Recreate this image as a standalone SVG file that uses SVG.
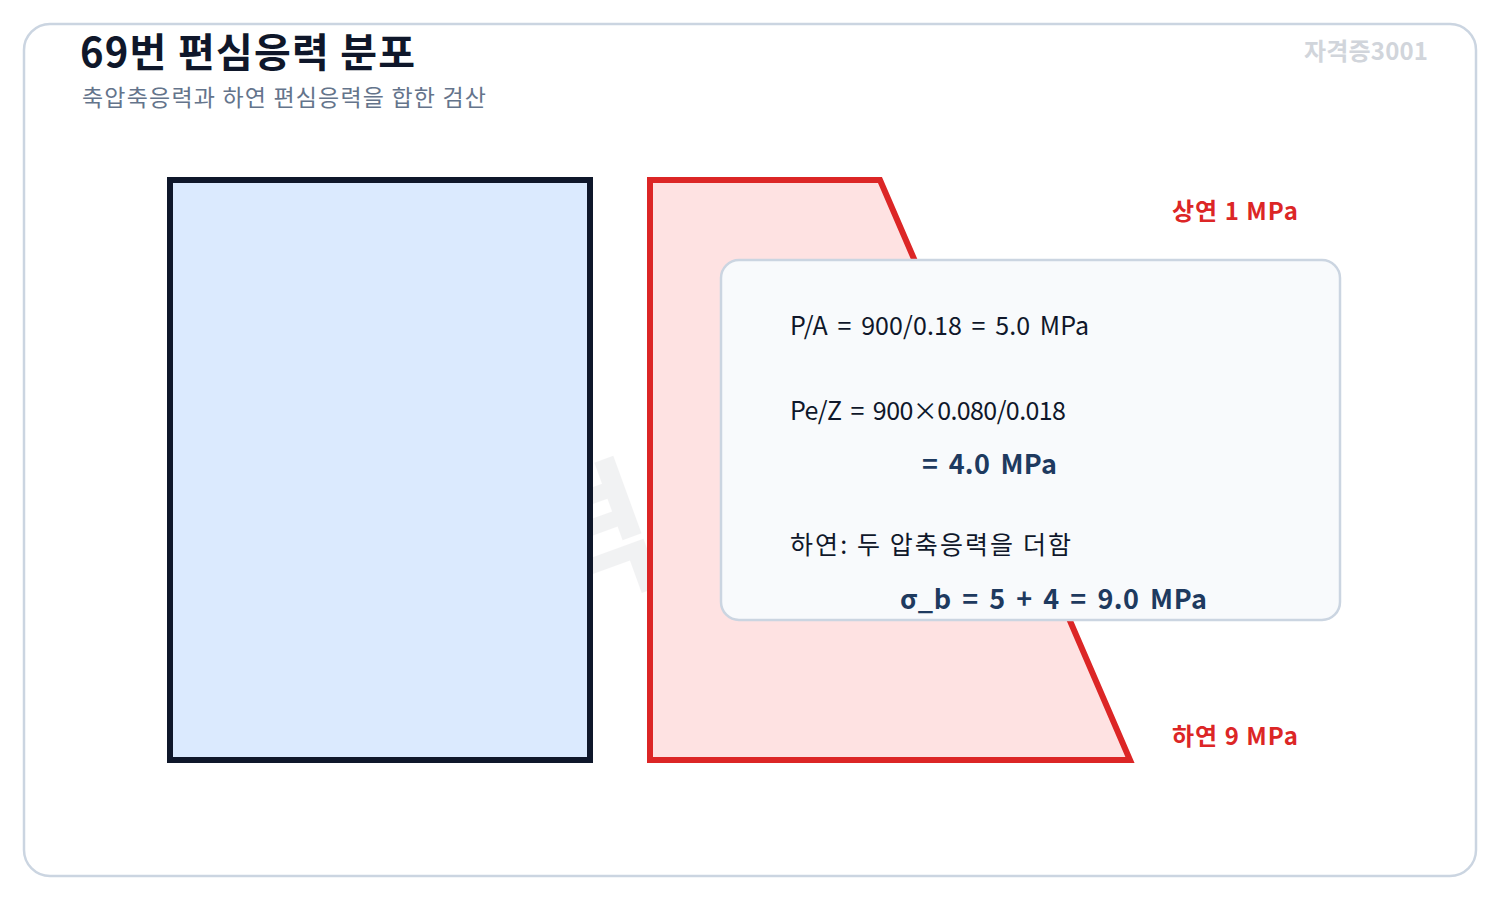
<svg xmlns="http://www.w3.org/2000/svg" width="1500" height="900" viewBox="0 0 1500 900">
<style>
text { font-family: "Noto Sans CJK KR", "Noto Sans", sans-serif; }
.title { font-size: 40px; font-weight: 700; fill: #0f172a; }
.sub { font-size: 23px; fill: #64748b; }
.brand { font-size: 24px; font-weight: 700; fill: #d1d5db; }
.lbl { font-size: 24px; font-weight: 700; fill: #dc2626; }
.calc { font-size: 25px; fill: #0f172a; }
.res { font-size: 27px; font-weight: 700; fill: #1e3a5f; }
</style>
<rect x="24" y="24" width="1452" height="852" rx="26" fill="#ffffff" stroke="#cbd5e1" stroke-width="2.5"/>
<g id="watermark" transform="translate(750,470) rotate(-20)">
<text x="0" y="0" text-anchor="middle" dominant-baseline="central" style="font-size:150px;font-weight:700;fill:#0f172a;opacity:0.05">자격증3001</text>
</g>
<g id="header">
<text class="title" x="80" y="67" textLength="335" lengthAdjust="spacing">69번 편심응력 분포</text>
<text class="sub" x="82" y="106" textLength="404" lengthAdjust="spacing">축압축응력과 하연 편심응력을 합한 검산</text>
<text class="brand" x="1304" y="60" textLength="124" lengthAdjust="spacing">자격증3001</text>
</g>
<g id="section">
<rect x="170" y="180" width="420" height="580" fill="#dbeafe" stroke="#0f172a" stroke-width="6"/>
</g>
<g id="stress">
<polygon points="650,180 880,180 1130,760 650,760" fill="#fee2e2" stroke="#dc2626" stroke-width="6"/>
</g>
<g id="labels">
<text class="lbl" x="1172" y="220" textLength="126" lengthAdjust="spacing">상연 1 MPa</text>
<text class="lbl" x="1172" y="745" textLength="126" lengthAdjust="spacing">하연 9 MPa</text>
</g>
<g id="calcbox">
<rect x="721" y="260" width="619" height="360" rx="18" fill="#f8fafc" stroke="#cbd5e1" stroke-width="2.5"/>
<text class="calc" x="790" y="335" word-spacing="4" textLength="299" lengthAdjust="spacing">P/A = 900/0.18 = 5.0 MPa</text>
<text class="calc" x="790" y="420" word-spacing="4" textLength="276" lengthAdjust="spacing">Pe/Z = 900×0.080/0.018</text>
<text class="res" x="922" y="474" word-spacing="4" textLength="135" lengthAdjust="spacing">= 4.0 MPa</text>
<text class="calc" x="790" y="554" textLength="281" lengthAdjust="spacing">하연: 두 압축응력을 더함</text>
<text class="res" x="900" y="609" word-spacing="4" textLength="307" lengthAdjust="spacing">σ_b = 5 + 4 = 9.0 MPa</text>
</g>
<g id="connectors"/>
</svg>
